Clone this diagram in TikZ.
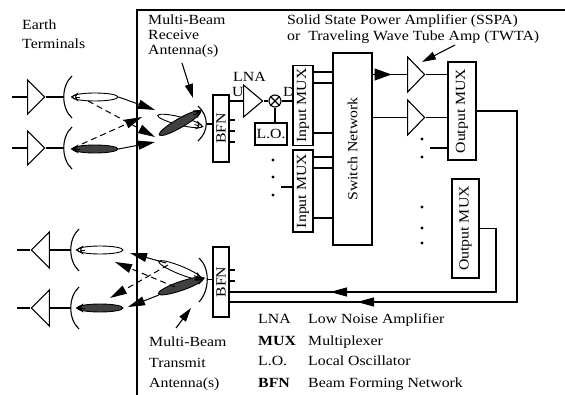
\documentclass[tikz,border=0pt]{standalone}
\usepackage{fontspec}
\setmainfont{Liberation Serif}[FakeStretch=1.13]
\usepackage{graphicx}
\usetikzlibrary{arrows.meta}
\usetikzlibrary{shapes.geometric}
\usetikzlibrary{calc}

\tikzset{
	wire/.style={line width=1.1pt},
	blk/.style={draw, line width=1.2pt, inner sep=0pt},
	amp/.style={draw, line width=1.1pt, isosceles triangle, isosceles triangle stretches,
		inner sep=0pt, minimum height=17pt, minimum width=34pt},
	lobe/.style={draw, line width=0.9pt, ellipse, inner sep=0pt, minimum width=46pt, minimum height=8pt},
	darklobe/.style={lobe, fill=black!75},
	tip/.style={line width=0.9pt, arrows={-Stealth[length=8pt,width=9pt,open]}},
	darktip/.style={line width=0.9pt, arrows={-Stealth[length=8pt,width=9pt]}},
	beam/.style={line width=1pt, arrows={-Triangle[length=17pt,width=9pt]}},
	dbeam/.style={beam, dash pattern=on 6pt off 4pt},
	pointer/.style={line width=1.1pt, arrows={-Triangle[length=14pt,width=8pt]}},
	lbl/.style={inner sep=0pt, anchor=base west},
}

\begin{document}
\begin{tikzpicture}[x=1pt, y=-1pt, font=\fontsize{14}{15}\selectfont]
\useasboundingbox (0,0) rectangle (565,395);

% payload border
\draw[line width=1.2pt] (137,395) -- (137,10) -- (565,10);

% uplink earth terminals
\foreach \n/\y in {1/97, 2/148} {
	\coordinate (rxin\n) at (12,\y);
	\node[amp, anchor=west] (rx\n) at (27,\y) {};
	\coordinate (rxd\n) at (64,\y);
	\draw[wire] (rxin\n) -- (rx\n.west) (rx\n.east) -- (rxd\n);
	\draw[wire] (72,\y-21) .. controls (61,\y-11) and (61,\y+11) .. (72,\y+21);
}
\node[lobe] (rl1) at (95,97) {};
\node[darklobe] (rl2) at (95,149) {};
\draw[tip] ($(rl1.west)!0.18!(rl1.east)$) -- ($(rl1.west)!-0.02!(rl1.east)$);
\draw[darktip] ($(rl2.west)!0.18!(rl2.east)$) -- ($(rl2.west)!-0.02!(rl2.east)$);

% uplink beams
\coordinate (ra) at (155,110);
\coordinate (rbs) at (88,101);
\coordinate (rb) at (155,137);
\coordinate (rcs) at (82,144);
\coordinate (rc) at (142,117);
\coordinate (rd) at (155,142);
\draw[beam] (rl1.east) -- (ra);
\draw[dbeam] (rbs) -- (rb);
\draw[dbeam] (rcs) -- (rc);
\draw[beam] (rl2.east) -- (rd);

% receive antenna and BFN
\node[lobe, rotate=-14] (sl1) at (180,121) {};
\node[darklobe, rotate=30, minimum width=48pt, minimum height=9pt] (sl2) at (180,123) {};
\draw[tip] ($(sl1.east)!0.18!(sl1.west)$) -- ($(sl1.east)!-0.02!(sl1.west)$);
\draw[darktip] ($(sl2.east)!0.18!(sl2.west)$) -- ($(sl2.east)!-0.02!(sl2.west)$);
\draw[wire] (198,106) .. controls (209,116) and (209,131) .. (198,141);
\coordinate (rdish) at (206,124);
\node[blk, minimum width=16pt, minimum height=67pt] (bfnR) at (221,128.5) {\rotatebox{90}{BFN}};
\draw[wire] (rdish) -- (rdish -| bfnR.west);
\foreach \y in {120,131,142}
	\draw[wire] (bfnR.east |- 0,\y) -- ++(5,0);

% LNA, mixer and L.O.
\node[amp, anchor=west, minimum width=32pt, minimum height=19pt] (lna) at (243,101) {};
\draw[wire] (bfnR.east |- lna) -- (lna.west);
\node[lbl] (lnalbl) at (233,82) {LNA};
\node[lbl] (ulbl) at (232,97) {U};
\node[draw, circle, line width=1.1pt, minimum size=12pt, inner sep=0pt] (mix) at (275,101) {};
\draw[wire] (mix.north west) -- (mix.south east) (mix.north east) -- (mix.south west);
\draw[wire] (lna.east) -- (mix.west);
\node[lbl] (dlbl) at (283,97) {D};
\node[blk, minimum width=32pt, minimum height=22pt] (lo) at (271,134) {L.O.};
\draw[wire] (mix.south) -- (mix.south |- lo.north);

% input multiplexers
\node[blk, minimum width=20pt, minimum height=80pt] (imux1) at (303,105.5) {\rotatebox{90}{Input MUX}};
\node[blk, minimum width=20pt, minimum height=82pt] (imux2) at (303,191) {\rotatebox{90}{Input MUX}};
\draw[wire] (mix.east) -- (mix -| imux1.west);
\coordinate (mux2in) at (281,187);
\draw[wire] (mux2in) -- (mux2in -| imux2.west);
\foreach \y in {160,177,195}
	\fill (273,\y) circle (1.6pt);

% switch network
\node[blk, minimum width=39pt, minimum height=192pt] (sw) at (352.5,149) {\rotatebox{90}{Switch Network}};
\foreach \y in {72,83,133}
	\draw[wire] (imux1.east |- 0,\y) -- (sw.west |- 0,\y);
\foreach \y in {157,168,218}
	\draw[wire] (imux2.east |- 0,\y) -- (sw.west |- 0,\y);

% power amplifiers
\node[amp, anchor=west, minimum width=35pt] (pa1) at (407,74.5) {};
\node[amp, anchor=west, minimum width=35pt] (pa2) at (407,117.5) {};
\draw[wire] (sw.east |- pa1) -- (pa1.west);
\draw[wire, arrows={-Triangle[length=17pt,width=12pt]}] (sw.east |- pa1) -- ($(sw.east |- pa1)!0.55!(pa1.west)$);
\draw[wire] (sw.east |- pa2) -- (pa2.west);

% output multiplexers
\node[blk, minimum width=28pt, minimum height=98pt] (omux1) at (462,111) {\rotatebox{90}{Output MUX}};
\node[blk, minimum width=27pt, minimum height=99pt] (omux2) at (465.5,228.5) {\rotatebox{90}{Output MUX}};
\draw[wire] (pa1.east) -- (pa1.east -| omux1.west);
\draw[wire] (pa2.east) -- (pa2.east -| omux1.west);
\coordinate (om3) at (430,148);
\draw[wire] (om3) -- (om3 -| omux1.west);
\foreach \y in {139,157,207,228,243}
	\fill (422,\y) circle (1.6pt);

% transmit BFN and return paths
\node[blk, minimum width=16pt, minimum height=70pt] (bfnT) at (221,282) {\rotatebox{90}{BFN}};
\coordinate (ret1) at (517,302);
\coordinate (ret2) at (496,292);
\coordinate (h1) at (357,302);
\coordinate (h2) at (330,292);
\draw[wire] (omux1.east) -| (ret1) -- (ret1 -| bfnT.east);
\draw[wire] (omux2.east) -| (ret2) -- (ret2 -| bfnT.east);
\draw[wire, arrows={-Triangle[length=17pt,width=9pt]}] (ret1) -- (h1);
\draw[wire, arrows={-Triangle[length=17pt,width=9pt]}] (ret2) -- (h2);
\foreach \y in {270,281}
	\draw[wire] (bfnT.east |- 0,\y) -- ++(5,0);

% transmit antenna
\draw[wire] (199,258) .. controls (210,268) and (210,290) .. (199,302);
\coordinate (tdish) at (207,279.5);
\draw[wire] (tdish) -- (tdish -| bfnT.west);
\node[lobe, rotate=-22] (tl1) at (180,270) {};
\node[darklobe, rotate=19, minimum width=48pt, minimum height=9pt] (tl2) at (181,286) {};
\draw[tip] ($(tl1.east)!0.18!(tl1.west)$) -- ($(tl1.east)!-0.02!(tl1.west)$);
\draw[darktip] ($(tl2.east)!0.18!(tl2.west)$) -- ($(tl2.east)!-0.02!(tl2.west)$);

% downlink earth terminals
\foreach \n/\y in {1/250, 2/308} {
	\coordinate (txout\n) at (17,\y);
	\node[amp, shape border rotate=180, anchor=east, minimum width=36pt, minimum height=18pt] (tx\n) at (50,\y) {};
	\coordinate (txd\n) at (71,\y);
	\draw[wire] (tx\n.west) -- (txout\n) (tx\n.east) -- (txd\n);
	\draw[wire] (79,\y-21) .. controls (68,\y-11) and (68,\y+11) .. (79,\y+21);
}
\node[lobe] (el1) at (100,250) {};
\node[darklobe] (el2) at (100,308) {};
\draw[tip] ($(el1.west)!0.18!(el1.east)$) -- ($(el1.west)!-0.02!(el1.east)$);
\draw[darktip] ($(el2.west)!0.18!(el2.east)$) -- ($(el2.west)!-0.02!(el2.east)$);

% downlink beams
\coordinate (tas) at (166,263);
\coordinate (ta) at (130,253);
\coordinate (tbs) at (175,287);
\coordinate (tb) at (115,262);
\coordinate (tcs) at (168,265);
\coordinate (tc) at (110,298);
\coordinate (tds) at (159,295);
\coordinate (td) at (128,307);
\draw[beam] (tas) -- (ta);
\draw[dbeam] (tbs) -- (tb);
\draw[dbeam] (tcs) -- (tc);
\draw[beam] (tds) -- (td);

% labels
\node[lbl] (earth) at (22,30) {Earth};
\node[lbl] (term) at (22,49) {Terminals};
\foreach \t [count=\i] in {Multi-Beam, Receive, Antenna(s)}
	\node[lbl] (rxl\i) at (148,10+15*\i) {\t};
\foreach \t [count=\i] in {Multi-Beam, Transmit, Antenna(s)}
	\node[lbl] (txl\i) at (149,325+21*\i) {\t};
\node[lbl] (sspa) at (287,25) {Solid State Power Amplifier (SSPA)};
\node[lbl] (twta) at (287,41) {or\ \ Traveling Wave Tube Amp (TWTA)};
\coordinate (rxp) at (182,63);
\coordinate (rxq) at (193,98);
\coordinate (txp) at (176,328);
\coordinate (txq) at (191,308);
\coordinate (pap) at (455,45);
\coordinate (paq) at (422,62);
\draw[pointer] (rxp) -- (rxq);
\draw[pointer] (txp) -- (txq);
\draw[pointer] (pap) -- (paq);

% key
\foreach \ab/\txt [count=\i] in {LNA/Low Noise Amplifier, \textbf{MUX}/Multiplexer, L.O./Local Oscillator, \textbf{BFN}/Beam Forming Network} {
	\node[lbl] (key\i) at (258,303+21*\i) {\ab};
	\node[lbl] (desc\i) at (308,303+21*\i) {\txt};
}
\end{tikzpicture}
\end{document}
